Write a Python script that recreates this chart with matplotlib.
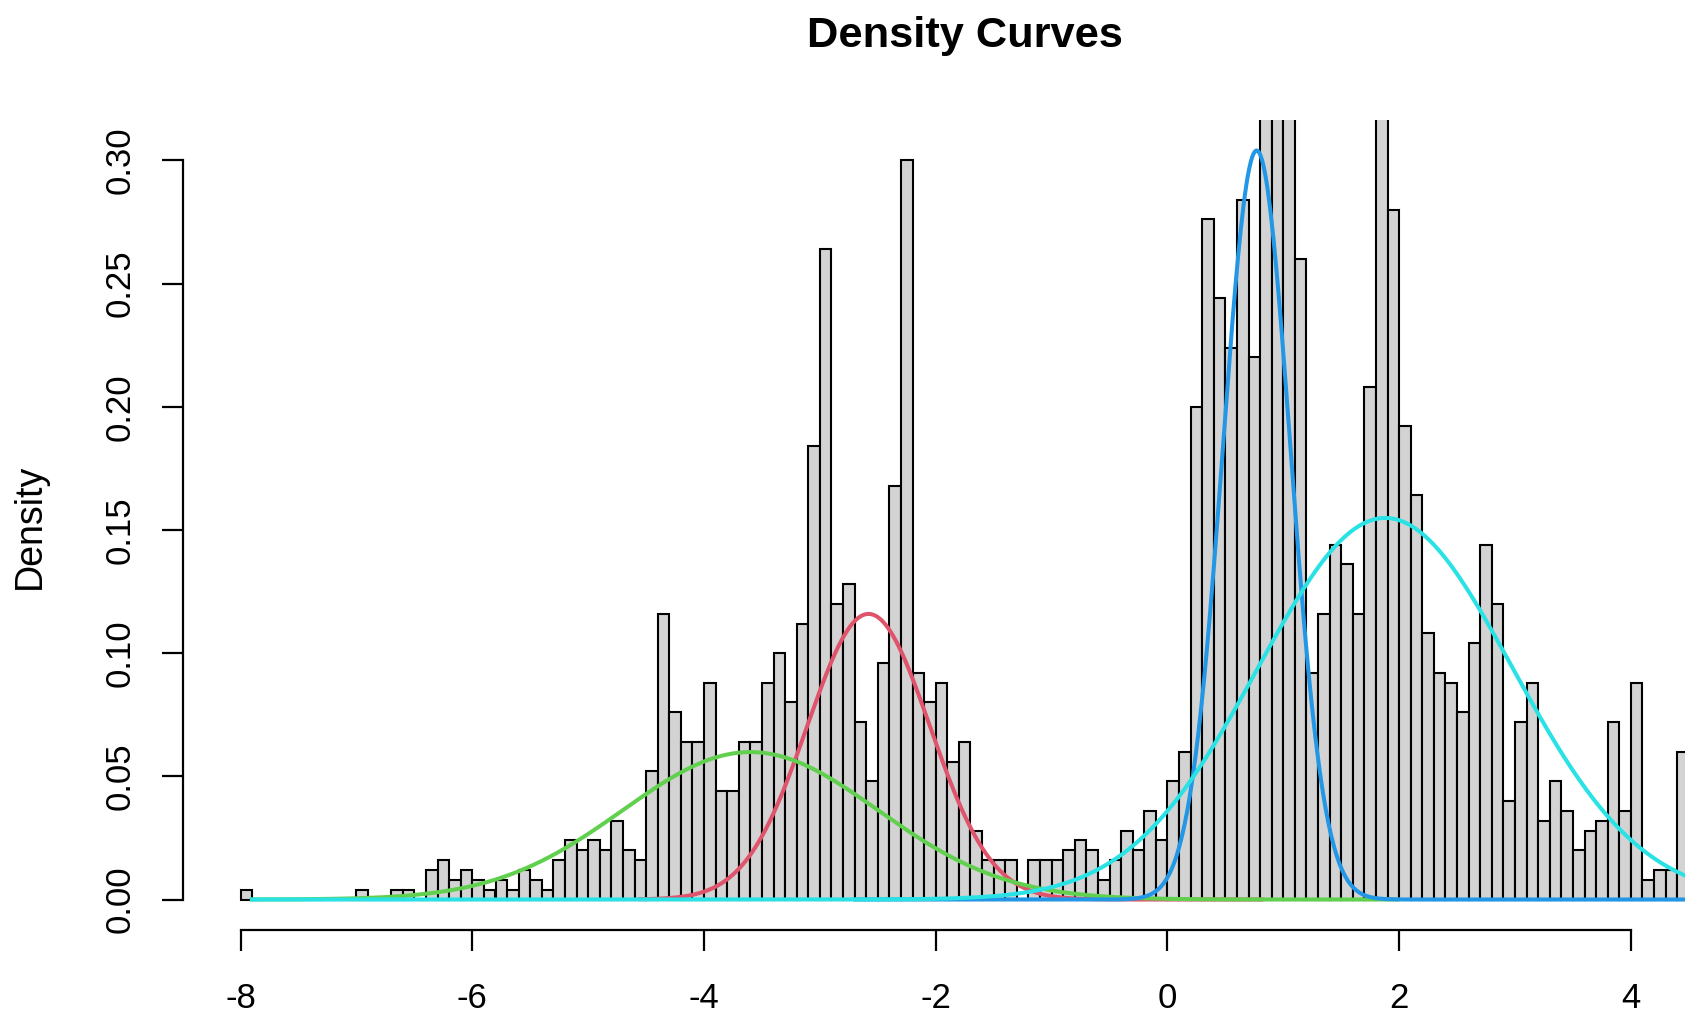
import numpy as np
import matplotlib
matplotlib.use("Agg")
import matplotlib.pyplot as plt

# histogram: left edges of the 0.1-wide bins and their counts
bin_width = 0.1
bin_left = np.round(np.arange(-8.0, 4.45, bin_width), 1)
bin_counts = [
    1, 0, 0, 0, 0, 0, 0, 0, 0, 0,          # -8.0 .. -7.1
    1, 0, 0, 1, 1, 0, 3, 4, 2, 3,          # -7.0 .. -6.1
    2, 1, 2, 1, 3, 2, 1, 4, 6, 5,          # -6.0 .. -5.1
    6, 5, 8, 5, 4, 13, 29, 19, 16, 16,     # -5.0 .. -4.1
    22, 11, 11, 16, 16, 22, 25, 20, 28, 46,  # -4.0 .. -3.1
    66, 30, 32, 18, 12, 24, 42, 75, 23, 20,  # -3.0 .. -2.1
    22, 14, 16, 7, 4, 4, 4, 0, 4, 4,       # -2.0 .. -1.1
    4, 5, 6, 5, 2, 4, 7, 5, 9, 6,          # -1.0 .. -0.1
    12, 15, 50, 69, 61, 56, 71, 55, 110, 130,  # 0.0 .. 0.9
    115, 65, 23, 29, 36, 34, 29, 52, 120, 70,  # 1.0 .. 1.9
    48, 41, 27, 23, 22, 19, 26, 36, 30, 10,  # 2.0 .. 2.9
    18, 22, 8, 12, 9, 5, 7, 8, 18, 9,      # 3.0 .. 3.9
    22, 2, 3, 3, 15,                       # 4.0 .. 4.4
]
n_total = 2500

# fitted normal components
comp_colors = ["#DF536B", "#61D04F", "#2297E6", "#28E2E5"]
comp_means = [-2.58, -3.6, 0.77, 1.88]
comp_sds = [0.53, 1.1, 0.29, 1.1]
comp_weights = [0.154, 0.165, 0.221, 0.427]
comp_from = [-4.57, -7.92, -2.71, -7.92]
comp_to = [0.83, 2.0, 4.6, 4.6]

x_ticks = [-8, -6, -4, -2, 0, 2, 4]
y_ticks = [0.00, 0.05, 0.10, 0.15, 0.20, 0.25, 0.30]

plt.rcParams["font.family"] = ["Liberation Sans", "DejaVu Sans"]

W, H = 1685, 1014
fig = plt.figure(figsize=(W / 100, H / 100), dpi=100)
left, right, top, bottom = 182.7, 1746.7, 119.7, 929.5
ax = fig.add_axes([left / W, 1 - bottom / H, (right - left) / W, (bottom - top) / H])

density = np.array(bin_counts) / (n_total * bin_width)
ax.bar(bin_left, density, width=bin_width, align="edge", color="#D3D3D3",
       edgecolor="black", linewidth=1.5)

for col, m, s, w, a, b in zip(comp_colors, comp_means, comp_sds, comp_weights,
                              comp_from, comp_to):
    xs = np.linspace(a, b, 600)
    ys = w * np.exp(-(xs - m) ** 2 / (2 * s ** 2)) / (s * np.sqrt(2 * np.pi))
    ax.plot(xs, ys, color=col, linewidth=2.9, solid_capstyle="butt")

ax.set_xlim(-8.5, 5.0)
ax.set_ylim(-0.01217, 0.3165)

for side in ["top", "right"]:
    ax.spines[side].set_visible(False)
ax.spines["left"].set_bounds(0, 0.30)
ax.spines["bottom"].set_bounds(-8, 4)
ax.spines["left"].set_linewidth(1.6)
ax.spines["bottom"].set_linewidth(1.6)

ax.set_xticks(x_ticks)
ax.set_xticklabels([str(t) for t in x_ticks])
ax.set_yticks(y_ticks)
ax.set_yticklabels([f"{t:.2f}" for t in y_ticks], rotation=90, va="center")
ax.tick_params(axis="both", direction="out", length=15, width=1.6,
               labelsize=25, colors="black")
ax.tick_params(axis="x", pad=23)
ax.tick_params(axis="y", pad=18.5)

fig.text(30 / W, 1 - 526 / H, "Density", rotation=90, ha="center", va="center",
         fontsize=27)
fig.text((left + right) / 2 / W, 1 - 36 / H, "Density Curves", ha="center",
         va="center", fontsize=31.2, fontweight="bold")

fig.savefig("out.png", dpi=100)
